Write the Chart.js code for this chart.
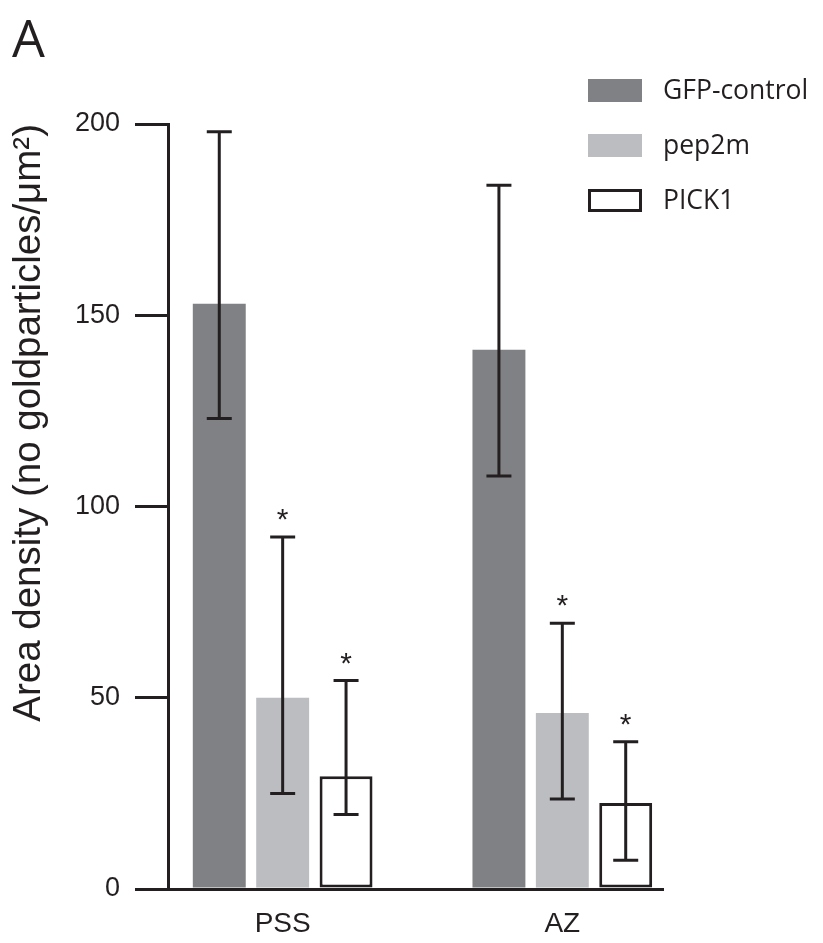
<!DOCTYPE html>
<html lang="en">
<head>
<meta charset="UTF-8">
<title>Area density</title>
<script src="https://cdn.jsdelivr.net/npm/chart.js"></script>
<style>
  html, body { margin: 0; padding: 0; background: #fff; }
  #wrap { position: relative; width: 823px; height: 943px; }
  #panel { position: absolute; left: 12px; top: 11px; font: 400 52px 'Open Sans', sans-serif; line-height: 1; color: #231f20; }
  #legend { position: absolute; left: 588px; top: 79px; }
  .row { position: absolute; left: 0; width: 235px; height: 23px; }
  .box { position: absolute; left: 0; top: 0; width: 54px; height: 23px; box-sizing: border-box; }
  .lbl { position: absolute; left: 75px; top: -3px; font: 400 26.5px 'Open Sans', sans-serif; line-height: 1; color: #231f20; white-space: nowrap; }
  canvas { position: absolute; left: 0; top: 0; }
</style>
</head>
<body>
<div id="wrap">
  <canvas id="chart" width="823" height="943"></canvas>
  <div id="panel">A</div>
  <div id="legend"></div>
</div>

<script>
// categories and series
const categories = ['PSS', 'AZ'];
const seriesNames = ['GFP-control', 'pep2m', 'PICK1'];

const gfpMean = [153, 141];
const gfpLow = [123, 108];
const gfpHigh = [198, 184];

const pepMean = [50, 46];
const pepLow = [25, 23.5];
const pepHigh = [92, 69.5];

const pickMean = [29.5, 22.5];
const pickLow = [19.5, 7.5];
const pickHigh = [54.5, 38.5];

// significance marks (*) per series, per category
const gfpStar = [false, false];
const pepStar = [true, true];
const pickStar = [true, true];

const yTicks = [0, 50, 100, 150, 200];

const ink = '#231f20';
const fills = ['#808185', '#bcbdc1', '#ffffff'];
const borders = [0, 0, 3];

const means = [gfpMean, pepMean, pickMean];
const lows = [gfpLow, pepLow, pickLow];
const highs = [gfpHigh, pepHigh, pickHigh];
const stars = [gfpStar, pepStar, pickStar];

// legend in html
const legend = document.getElementById('legend');
seriesNames.forEach((name, i) => {
    const row = document.createElement('div');
    row.className = 'row';
    row.style.top = (i * 55) + 'px';
    const box = document.createElement('div');
    box.className = 'box';
    box.style.background = fills[i];
    if (borders[i]) box.style.border = borders[i] + 'px solid ' + ink;
    const lbl = document.createElement('span');
    lbl.className = 'lbl';
    lbl.textContent = name;
    row.appendChild(box);
    row.appendChild(lbl);
    legend.appendChild(row);
});

// error bars and asterisks
const errorBars = {
    id: 'errorBars',
    afterDatasetsDraw(chart) {
        const ctx = chart.ctx;
        const y = chart.scales.y;
        ctx.save();
        ctx.strokeStyle = ink;
        ctx.fillStyle = ink;
        ctx.lineWidth = 3;
        chart.data.datasets.forEach((ds, di) => {
            const meta = chart.getDatasetMeta(di);
            meta.data.forEach((bar, i) => {
                const top = y.getPixelForValue(ds.high[i]);
                const bot = y.getPixelForValue(ds.low[i]);
                const half = 12.5;
                ctx.beginPath();
                ctx.moveTo(bar.x, top);
                ctx.lineTo(bar.x, bot);
                ctx.moveTo(bar.x - half, top);
                ctx.lineTo(bar.x + half, top);
                ctx.moveTo(bar.x - half, bot);
                ctx.lineTo(bar.x + half, bot);
                ctx.stroke();
                if (ds.star[i]) {
                    ctx.font = '30px "Liberation Sans", Arial, sans-serif';
                    ctx.textAlign = 'center';
                    ctx.textBaseline = 'alphabetic';
                    ctx.fillText('*', bar.x, top - 8);
                }
            });
        });
        ctx.restore();
    }
};

const ctx = document.getElementById('chart').getContext('2d');
new Chart(ctx, {
    type: 'bar',
    data: {
        datasets: seriesNames.map((name, s) => ({
            label: name,
            data: categories.map((c, i) => ({ x: i + 1, y: means[s][i] })),
            low: lows[s],
            high: highs[s],
            star: stars[s],
            backgroundColor: fills[s],
            borderColor: ink,
            borderWidth: borders[s],
            borderSkipped: false
        }))
    },
    options: {
        responsive: false,
        animation: false,
        categoryPercentage: 0.68,
        barPercentage: 0.835,
        layout: { padding: { top: 124, right: 160, left: 0, bottom: 0 } },
        plugins: { legend: { display: false }, tooltip: { enabled: false } },
        scales: {
            x: {
                type: 'linear',
                min: 0.59,
                max: 2.36,
                offset: false,
                z: 1,
                afterFit(scale) { scale.height = 54; },
                afterBuildTicks(scale) { scale.ticks = categories.map((c, i) => ({ value: i + 1 })); },
                grid: { display: false, drawTicks: false, offset: false },
                border: { display: true, color: ink, width: 3 },
                ticks: {
                    color: ink,
                    padding: 18,
                    font: { family: '"Liberation Sans", Arial, sans-serif', size: 28 },
                    callback: (v) => categories[v - 1]
                }
            },
            y: {
                min: 0,
                max: 200,
                z: 1,
                afterFit(scale) { scale.width = 168; },
                afterBuildTicks(scale) { scale.ticks = yTicks.map(v => ({ value: v })); },
                grid: { drawOnChartArea: false, drawTicks: true, tickLength: 33, color: ink, lineWidth: 3 },
                border: { display: true, color: ink, width: 3 },
                ticks: {
                    color: ink,
                    padding: 15,
                    font: { family: '"Liberation Sans", Arial, sans-serif', size: 27 }
                },
                title: {
                    display: true,
                    text: 'Area density (no goldparticles/\u03bcm\u00b2)',
                    align: 'end',
                    color: ink,
                    padding: { top: 6, bottom: 0 },
                    font: { family: '"Liberation Sans", Arial, sans-serif', size: 38.5 }
                }
            }
        }
    },
    plugins: [errorBars]
});
</script>
</body>
</html>
